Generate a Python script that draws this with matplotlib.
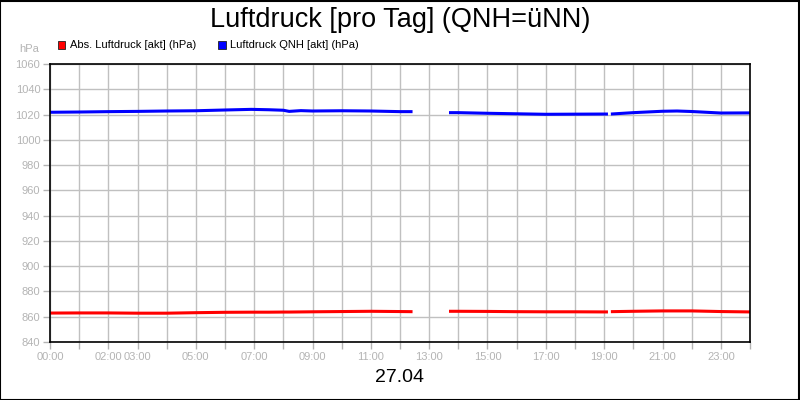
import numpy as np
import matplotlib.pyplot as plt
from matplotlib.patches import Rectangle

plt.rcParams['font.family'] = ['Liberation Sans', 'DejaVu Sans']

# Stunden seit 00:00, None = Luecke in den Daten
zeit = [0, 1, 2, 3, 4, 5, 6, 6.9, 7.5, 8, 8.2, 8.6, 9, 10, 11, 12, 12.43, None,
        13.68, 14, 15, 16, 17, 18, 19, 19.13, None,
        19.23, 20, 21, 21.5, 22, 23, 24]
qnh = [1021.8, 1022.0, 1022.3, 1022.5, 1022.8, 1023.0, 1023.6, 1024.1, 1023.8, 1023.4, 1022.5,
       1023.1, 1022.8, 1023.0, 1022.8, 1022.3, 1022.3, None,
       1021.5, 1021.5, 1021.0, 1020.6, 1020.2, 1020.3, 1020.4, 1020.4, None,
       1020.4, 1021.5, 1022.6, 1022.8, 1022.4, 1021.2, 1021.3]
abs_druck = [862.9, 863.0, 863.0, 862.8, 862.8, 863.2, 863.5, 863.6, 863.6, 863.7, 863.7,
             863.8, 863.9, 864.1, 864.3, 864.1, 864.0, None,
             864.3, 864.3, 864.2, 864.0, 863.9, 863.9, 863.8, 863.8, None,
             864.0, 864.3, 864.6, 864.6, 864.6, 864.1, 863.8]

tick_stunden = [0, 2, 3, 5, 7, 9, 11, 13, 15, 17, 19, 21, 23]
tick_labels = ['%02d:00' % h for h in tick_stunden]

x = np.array(zeit, dtype=float)
grau = '#b4b4b4'

fig = plt.figure(figsize=(8, 4), dpi=100)
fig.patches.append(Rectangle((0.0005, 0.001), 0.998, 0.997, transform=fig.transFigure,
                             fill=False, edgecolor='black', linewidth=1.5))
ax = fig.add_axes([0.0625, 0.145, 0.875, 0.695])

ax.plot(x, np.array(abs_druck, dtype=float), color='#ff0000', lw=2.2, solid_capstyle='butt')
ax.plot(x, np.array(qnh, dtype=float), color='#0000ff', lw=2.2, solid_capstyle='butt')

ax.set_xlim(0, 24)
ax.set_ylim(840, 1060)
ax.set_yticks(np.arange(840, 1061, 20))
ax.set_xticks(np.arange(0, 25, 1))
ax.set_xticklabels([tick_labels[tick_stunden.index(h)] if h in tick_stunden else '' for h in range(25)])
ax.grid(True, color='#c0c0c0', lw=1)
ax.set_axisbelow(True)
ax.tick_params(colors=grau, labelcolor=grau, labelsize=8, length=5, width=1, pad=2)
for s in ax.spines.values():
    s.set_color('black')
    s.set_linewidth(1.2)

fig.text(0.5, 0.933, 'Luftdruck [pro Tag] (QNH=\u00fcNN)', ha='center', va='baseline', fontsize=19.5)
fig.text(0.5, 0.055, '27.04', ha='center', va='center', fontsize=14)
fig.text(0.0495, 0.878, 'hPa', ha='right', va='center', fontsize=8, color=grau)

# Legende
eintraege = [('Abs. Luftdruck [akt] (hPa)', '#ff0000', 58), ('Luftdruck QNH [akt] (hPa)', '#0000ff', 218)]
for text, farbe, px in eintraege:
    fig.patches.append(Rectangle((px / 800, (400 - 48.5) / 400), 7.5 / 800, 7.5 / 400,
                                 transform=fig.transFigure, facecolor=farbe,
                                 edgecolor='#202020', linewidth=0.6))
    fig.text((px + 12) / 800, (400 - 45) / 400, text, ha='left', va='center', fontsize=8)

fig.savefig('out.png', dpi=100)
